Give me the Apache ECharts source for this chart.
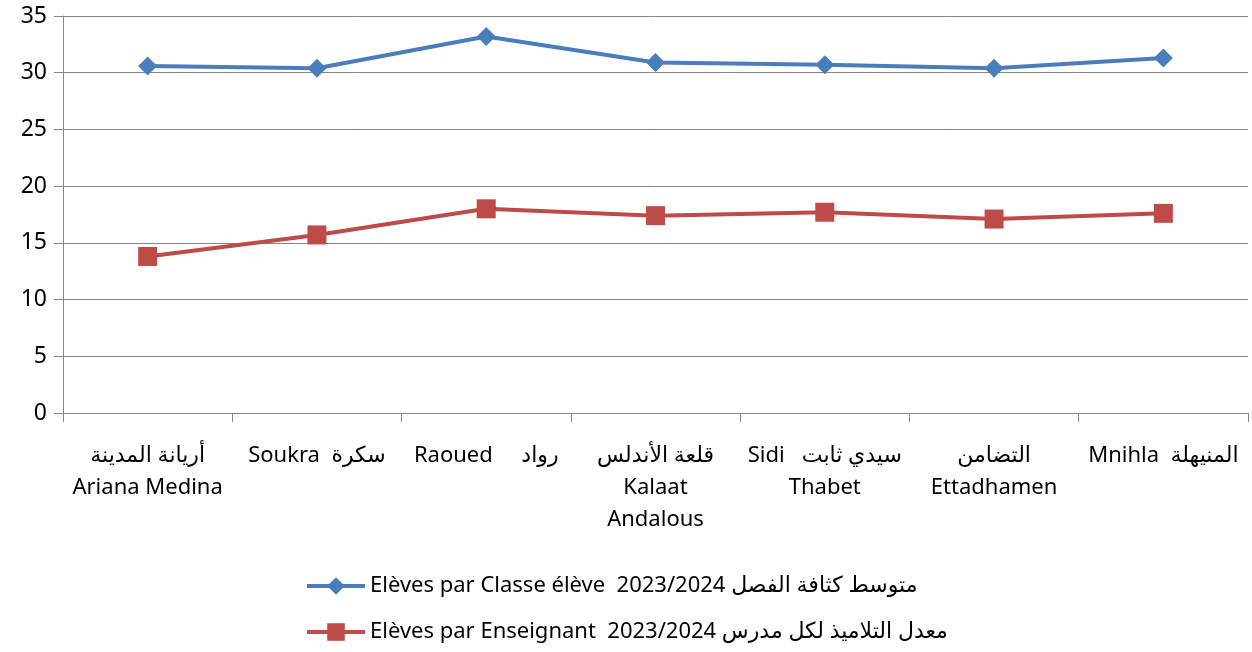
<!DOCTYPE html>
<html>
<head>
<meta charset="utf-8">
<script src="https://cdn.jsdelivr.net/npm/echarts@6/dist/echarts.min.js"></script>
<style>
html,body{margin:0;padding:0;background:#fff;}
#main{width:1252px;height:652px;}
</style>
</head>
<body>
<div id="main"></div>
<script>
var categories = [
    'أريانة المدينة\nAriana Medina',
    'Soukra  سكرة',
    'Raoued     رواد',
    'قلعة الأندلس\nKalaat\nAndalous',
    'Sidi   سيدي ثابت\nThabet',
    'التضامن\nEttadhamen',
    'Mnihla  المنيهلة'
];
var seriesNames = [
    'Elèves par Classe élève  2023/2024 متوسط كثافة الفصل',
    'Elèves par Enseignant  2023/2024 معدل التلاميذ لكل مدرس'
];
var parClasse = [30.6, 30.4, 33.2, 30.9, 30.7, 30.4, 31.3];
var parEnseignant = [13.8, 15.7, 18.0, 17.4, 17.7, 17.1, 17.6];

var font = '"Noto Sans", "DejaVu Sans", sans-serif';
var myChart = echarts.init(document.getElementById('main'));
var option = {
    animation: false,
    textStyle: {fontFamily: font},
    grid: {left: 63, right: 4, top: 16, bottom: 239},
    legend: {
        orient: 'vertical',
        left: 300,
        top: 570,
        itemWidth: 58,
        itemHeight: 22,
        itemGap: 24,
        lineStyle: {width: 4},
        textStyle: {fontSize: 22, color: '#000', fontFamily: font},
        data: seriesNames
    },
    xAxis: {
        type: 'category',
        boundaryGap: true,
        data: categories,
        axisLine: {lineStyle: {color: '#868686'}},
        axisTick: {show: true, length: 9, lineStyle: {color: '#868686'}},
        axisLabel: {interval: 0, margin: 27, fontSize: 22, color: '#000', lineHeight: 32, fontFamily: font}
    },
    yAxis: {
        type: 'value',
        min: 0,
        max: 35,
        interval: 5,
        axisLine: {show: true, lineStyle: {color: '#868686'}},
        axisTick: {show: true, length: 9, lineStyle: {color: '#868686'}},
        axisLabel: {margin: 16, fontSize: 23, color: '#000', fontFamily: font},
        splitLine: {lineStyle: {color: '#868686'}}
    },
    series: [
        {
            name: seriesNames[0],
            type: 'line',
            data: parClasse,
            symbol: 'diamond',
            symbolSize: 19,
            color: '#4A7EBB',
            lineStyle: {width: 4}
        },
        {
            name: seriesNames[1],
            type: 'line',
            data: parEnseignant,
            symbol: 'rect',
            symbolSize: 19,
            color: '#BE4B48',
            lineStyle: {width: 4}
        }
    ]
};
myChart.setOption(option);
window.addEventListener("resize", function () {
    myChart.resize();
});
</script>
</body>
</html>
